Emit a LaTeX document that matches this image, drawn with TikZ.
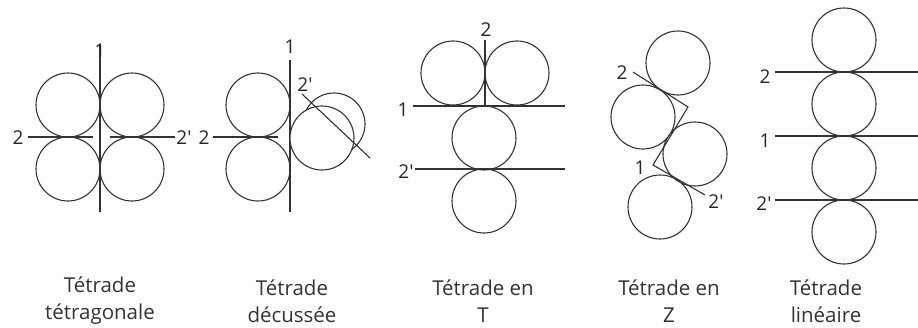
\documentclass[tikz,border=0pt]{standalone}
\usepackage{fontspec}
\setmainfont{Open Sans}
\newcommand{\pr}{\textquotesingle}
\begin{document}
\begin{tikzpicture}[x=1pt,y=-1pt]
\tikzset{
  ring/.style={draw=black!80, line width=1.1pt},
  axis/.style={draw=black!80, line width=1.1pt},
  lab/.style={font=\fontsize{19}{19}\selectfont, text=black!85, inner sep=0pt},
  captxt/.style={font=\fontsize{20.5}{27}\selectfont, align=center, text=black!80}
}
\useasboundingbox (0,0) rectangle (918,327);
% ---------- Panel 1 : tetragonale
\draw[ring] (68,105) circle (32) (132,105) circle (32) (68,169) circle (32) (132,169) circle (32);
\coordinate (a1t) at (100,45); \coordinate (a1b) at (100,212);
\draw[axis] (a1t) -- (a1b);
\node[lab] (l1a) at (100,51) {1};
\coordinate (h1a) at (28,137); \coordinate (h1b) at (93,137);
\coordinate (h1c) at (110,137); \coordinate (h1d) at (175,137);
\draw[axis] (h1a) -- (h1b) (h1c) -- (h1d);
\node[lab] (l1b) at (18,138) {2};
\node[lab] (l1c) at (184,138) {2\pr};
\node[captxt] (c1) at (100,301) {Tétrade\\tétragonale};
% ---------- Panel 2 : decussee
\draw[ring] (258,105) circle (32) (258,169) circle (32);
\coordinate (a2t) at (290,60); \coordinate (a2b) at (290,212);
\draw[axis] (a2t) -- (a2b);
\node[lab] (l2a) at (290,47) {1};
\coordinate (h2a) at (213,137); \coordinate (h2b) at (278,137);
\draw[axis] (h2a) -- (h2b);
\node[lab] (l2b) at (204,138) {2};
\draw[ring] (334,124) circle (31);
\draw[ring, fill=white] (322,138) circle (32);
\coordinate (d2a) at (302,94); \coordinate (d2b) at (370,158);
\draw[axis] (d2a) -- (d2b);
\node[lab] (l2c) at (305,85) {2\pr};
\node[captxt] (c2) at (292,301) {Tétrade\\décussée};
% ---------- Panel 3 : T
\draw[ring] (453,73) circle (32) (517,73) circle (32) (484,138) circle (32) (484,201) circle (32);
\coordinate (a3t) at (485,40); \coordinate (a3b) at (485,105);
\draw[axis] (a3t) -- (a3b);
\node[lab] (l3a) at (486,30) {2};
\coordinate (h3a) at (413,106); \coordinate (h3b) at (565,106);
\coordinate (h3c) at (415,169); \coordinate (h3d) at (565,169);
\draw[axis] (h3a) -- (h3b) (h3c) -- (h3d);
\node[lab] (l3b) at (403,110) {1};
\node[lab] (l3c) at (406,172) {2\pr};
\node[captxt] (c3) at (483,301) {Tétrade en\\T};
% ---------- Panel 4 : Z
\draw[ring] (678,63) circle (32) (643,117) circle (32) (695,154) circle (32) (660,207) circle (32);
\coordinate (z1) at (633,72); \coordinate (z2) at (688,107);
\coordinate (z3) at (653,165); \coordinate (z4) at (705,195);
\draw[axis] (z1) -- (z2) -- (z3) -- (z4);
\node[lab] (l4a) at (622,73) {2};
\node[lab] (l4b) at (640,168) {1};
\node[lab] (l4c) at (716,202) {2\pr};
\node[captxt] (c4) at (669,301) {Tétrade en\\Z};
% ---------- Panel 5 : lineaire
\draw[ring] (844,40) circle (32) (844,104) circle (32) (844,168) circle (32) (844,232) circle (32);
\coordinate (h5a) at (775,72); \coordinate (h5b) at (918,72);
\coordinate (h5c) at (775,136); \coordinate (h5d) at (918,136);
\coordinate (h5e) at (775,200); \coordinate (h5f) at (918,200);
\draw[axis] (h5a) -- (h5b) (h5c) -- (h5d) (h5e) -- (h5f);
\node[lab] (l5a) at (765,77) {2};
\node[lab] (l5b) at (765,141) {1};
\node[lab] (l5c) at (764,204) {2\pr};
\node[captxt] (c5) at (826,301) {Tétrade\\linéaire};
\end{tikzpicture}
\end{document}
